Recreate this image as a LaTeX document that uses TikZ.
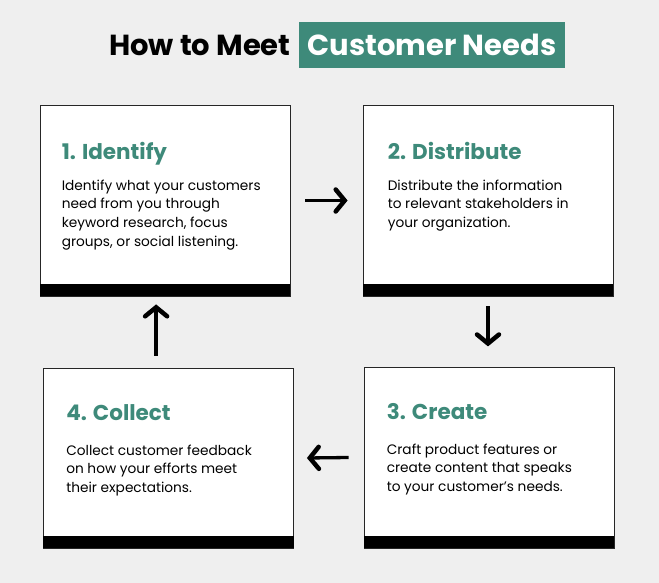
\documentclass[tikz,border=0pt]{standalone}
\usepackage{fontspec}
\setmainfont{Poppins}
\usetikzlibrary{positioning,arrows.meta}
\definecolor{pageGray}{HTML}{EFEFEF}
\definecolor{needTeal}{HTML}{3E8A7A}
\tikzset{
	stepcard/.style={draw=black!85, fill=white, line width=0.8pt,
		minimum width=250pt, inner sep=0pt},
	cardhead/.style={anchor=north west, inner sep=0pt, text=needTeal,
		font=\fontsize{21.5}{25}\selectfont\bfseries},
	cardbody/.style={anchor=north west, inner sep=0pt, align=left,
		font=\fontsize{13.7}{18.7}\selectfont},
	flowarrow/.style={-{Straight Barb[length=9pt,width=22pt,line width=4.5pt,line cap=round]},
		line width=3.3pt}
}
\begin{document}
\begin{tikzpicture}[x=1pt,y=-1pt]
	\fill[pageGray] (0,0) rectangle (659,583);
	\useasboundingbox (0,0) rectangle (659,583);
	% title
	\node[fill=needTeal, text=white, minimum width=266pt, minimum height=46pt,
		font=\fontsize{29}{33}\selectfont\bfseries] (tag) at (432,45) {Customer Needs};
	\node[anchor=base east, inner sep=0pt, font=\fontsize{29}{33}\selectfont\bfseries]
		(title) at ([xshift=-8pt]tag.base west) {How to Meet};
	% cards
	\node[stepcard, minimum height=191pt] (identify) at (165,200.5) {};
	\node[stepcard, minimum height=191pt] (distribute) at (488,200.5) {};
	\node[stepcard, minimum height=181pt] (create) at (489,457.5) {};
	\node[stepcard, minimum height=180pt] (collect) at (168.5,458) {};
	\foreach \card in {identify,distribute,create,collect}
		\fill[black] (\card.south west) rectangle ([yshift=12pt]\card.south east);
	% texts
	\node[cardhead, below right=37pt and 22pt of identify.north west] (identifyhead) {1. Identify};
	\node[cardbody, below right=75pt and 22pt of identify.north west] (identifytext)
		{Identify what your customers\\need from you through\\keyword research, focus\\groups, or social listening.};
	\node[cardhead, below right=37pt and 25pt of distribute.north west] (distributehead) {2. Distribute};
	\node[cardbody, below right=75pt and 25pt of distribute.north west] (distributetext)
		{Distribute the information\\to relevant stakeholders in\\your organization.};
	\node[cardhead, below right=37pt and 23pt of create.north west] (createhead) {3. Create};
	\node[cardbody, below right=77pt and 23pt of create.north west] (createtext)
		{Craft product features or\\create content that speaks\\to your customer’s needs.};
	\node[cardhead, below right=37pt and 23pt of collect.north west] (collecthead) {4. Collect};
	\node[cardbody, below right=77pt and 23pt of collect.north west] (collecttext)
		{Collect customer feedback\\on how your efforts meet\\their expectations.};
	% arrows
	\draw[flowarrow] ([xshift=15pt]identify.east) -- ([xshift=-15pt]distribute.west);
	\draw[flowarrow] ([yshift=-10pt]distribute.south) -- ([yshift=-50pt]distribute.south);
	\draw[flowarrow] ([xshift=-15pt]create.west) -- ([xshift=13pt]collect.east);
	\coordinate (upfoot) at ([xshift=113pt,yshift=12pt]collect.north west);
	\draw[flowarrow] (upfoot) -- ([yshift=-8pt]identify.south -| upfoot);
\end{tikzpicture}
\end{document}
